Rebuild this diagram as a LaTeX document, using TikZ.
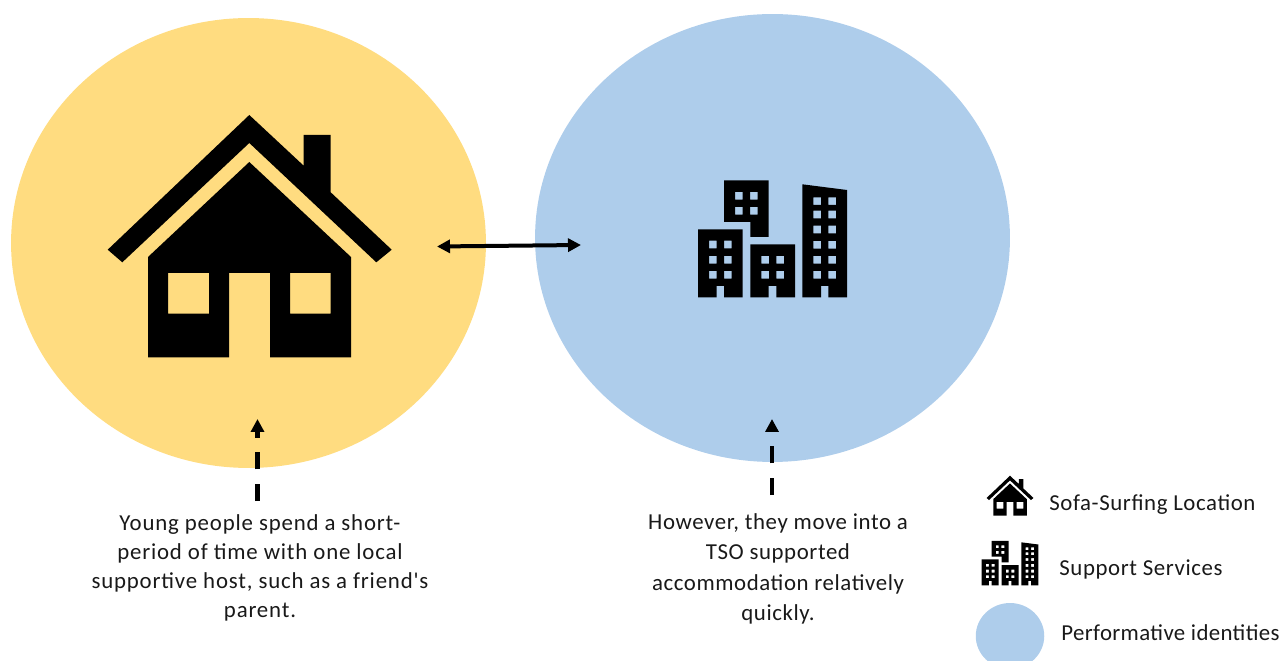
\documentclass[tikz,border=0pt]{standalone}
\usepackage{fontspec}
\setmainfont{Carlito}[Ligatures=TeXOff,LetterSpace=2.6]
\usetikzlibrary{arrows.meta,shapes.geometric}
\definecolor{sofayellow}{HTML}{FFDC80}
\definecolor{identityblue}{HTML}{AECDEB}
\tikzset{
    identity/.style={ellipse, inner sep=0pt, draw=none},
    caption/.style={align=center, font=\fontsize{13}{16.6}\selectfont, text=black!90},
    legendtext/.style={anchor=base west, inner sep=0pt, font=\fontsize{13}{16.6}\selectfont, text=black!90},
    linkarrow/.style={{Triangle[length=0.26cm,width=0.26cm]}-{Triangle[length=0.26cm,width=0.26cm]}, line width=0.08cm},
    pointarrow/.style={-{Triangle[length=0.26cm,width=0.26cm]}, line width=0.085cm, dash pattern=on 0.34cm off 0.295cm},
    houseicon/.pic={
        % roof with chimney
        \fill (-141.8,13.7) -- (-0.2,-121) -- (54.2,-70.3) -- (54.2,-101) -- (81.2,-101) -- (81.2,-43.7) -- (142.2,13.7) -- (126.8,26.3) -- (-0.2,-93) -- (-127.2,26.3) -- cycle;
        % walls, door and windows
        \fill[even odd rule] (-101.5,21) -- (-0.2,-74) -- (101.5,21) -- (101.5,121.3) -- (20.5,121.3) -- (20.5,37) -- (-20.5,37) -- (-20.5,121.3) -- (-101.5,121.3) -- cycle
            (-81.5,37) rectangle (-40.5,77.7)
            (40.5,37) rectangle (81.2,77.7);
    },
    cityicon/.pic={
        % top building
        \fill[even odd rule] (-48.5,-58.4) -- (-3.8,-58.4) -- (-3.8,-1.7) -- (-22.2,-1.7) -- (-22.2,-16.7) -- (-48.5,-16.7) -- cycle
            (-37.5,-46.7) rectangle (-29.8,-39)
            (-22.5,-46.7) rectangle (-14.8,-39)
            (-37.5,-31.7) rectangle (-29.8,-24)
            (-22.5,-31.7) rectangle (-14.8,-24);
        % left building
        \fill[even odd rule] (-74.5,-9.4) -- (-29.8,-9.4) -- (-29.8,58.6) -- (-48.5,58.6) -- (-48.5,47.3) -- (-55.8,47.3) -- (-55.8,58.6) -- (-74.5,58.6) -- cycle
            (-63.5,2) rectangle (-55.8,9.6)
            (-48.5,2) rectangle (-40.8,9.6)
            (-63.5,17.3) rectangle (-55.8,25)
            (-48.5,17.3) rectangle (-40.8,25)
            (-63.5,32.3) rectangle (-55.8,40)
            (-48.5,32.3) rectangle (-40.8,40);
        % middle building
        \fill[even odd rule] (-22.2,5.6) -- (22.5,5.6) -- (22.5,58.6) -- (3.8,58.6) -- (3.8,47.3) -- (-3.8,47.3) -- (-3.8,58.6) -- (-22.2,58.6) -- cycle
            (-11.2,17.3) rectangle (-3.5,25)
            (3.8,17.3) rectangle (11.5,25)
            (-11.2,32.3) rectangle (-3.5,40)
            (3.8,32.3) rectangle (11.5,40);
        % right building
        \fill[even odd rule] (29.8,-54.4) -- (74.5,-48.7) -- (74.5,58.6) -- (55.8,58.6) -- (55.8,47.3) -- (48.5,47.3) -- (48.5,58.6) -- (29.8,58.6) -- cycle
            (40.8,-41.4) rectangle (48.5,-33.7)
            (55.8,-41.4) rectangle (63.5,-33.7)
            (40.8,-28) rectangle (48.5,-20.4)
            (55.8,-28) rectangle (63.5,-20.4)
            (40.8,-13) rectangle (48.5,-5.4)
            (55.8,-13) rectangle (63.5,-5.4)
            (40.8,2.3) rectangle (48.5,10)
            (55.8,2.3) rectangle (63.5,10)
            (40.8,17.3) rectangle (48.5,25)
            (55.8,17.3) rectangle (63.5,25)
            (40.8,32.3) rectangle (48.5,40)
            (55.8,32.3) rectangle (63.5,40);
    }
}
\begin{document}
\begin{tikzpicture}[x=0.02cm, y=-0.02cm]
    \useasboundingbox (0,0) rectangle (1283,661);
    \node[identity, fill=sofayellow, minimum width=9.5cm, minimum height=9cm] (sofacircle) at (248.5,243) {};
    \node[identity, fill=identityblue, minimum width=9.5cm, minimum height=8.96cm] (tsocircle) at (772.5,238) {};
    \pic at (249.5,236) {houseicon};
    \pic at (772.5,238.7) {cityicon};

    \coordinate (linkleft) at (437,246.5);
    \coordinate (linkright) at (581,245);
    \draw[linkarrow] (linkleft) -- (linkright);

    \node[caption, font=\fontsize{13}{16.6}\selectfont\addfontfeature{LetterSpace=3.6}] (younglabel) at (260,568) {Young people spend a short-\\period of time with one local\\supportive host, such as a friend's\\parent.};
    \node[caption, font=\fontsize{13}{17.4}\selectfont] (tsolabel) at (778,569) {However, they move into a\\TSO supported\\accommodation relatively\\quickly.};

    \coordinate (youngtail) at (257.5,501);
    \coordinate (youngtip) at (257.5,419);
    \coordinate (tsotail) at (772,495);
    \coordinate (tsotip) at (772,419);
    \draw[pointarrow] (youngtail) -- (youngtip);
    \draw[pointarrow] (tsotail) -- (tsotip);

    \pic[scale=0.165] at (1010,495.7) {houseicon};
    \pic[scale=0.38] at (1010,563) {cityicon};
    \node[identity, fill=identityblue, minimum width=1.37cm, minimum height=1.32cm] (legendcircle) at (1010,636) {};
    \node[legendtext] (sofalabel) at (1049,510) {Sofa-Surfing Location};
    \node[legendtext] (supportlabel) at (1059,575) {Support Services};
    \node[legendtext] (identitylabel) at (1061,640) {\addfontfeature{LetterSpace=1.6}Performative identities};
\end{tikzpicture}
\end{document}
